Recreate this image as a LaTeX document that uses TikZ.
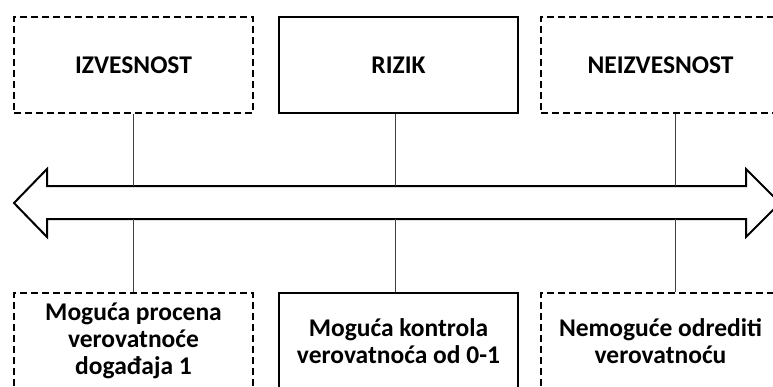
\documentclass[tikz,border=0pt]{standalone}
\usepackage{fontspec}
\setmainfont{Carlito}
\begin{document}
\begin{tikzpicture}[x=1pt,y=-1pt,
  box/.style={draw=black, line width=2.2pt, minimum width=239pt, minimum height=96pt,
    inner sep=0pt, align=center, font=\bfseries\fontsize{25.5}{27}\selectfont},
  dbox/.style={box, dash pattern=on 7pt off 4pt},
  conn/.style={draw=black!75, line width=1pt},
  bigarrow/.style={draw=black, line width=2pt, fill=white, line join=miter}]
\useasboundingbox (0,0) rectangle (773,386);
\clip (0,0) rectangle (773,386);
% top boxes
\node[dbox] (tl) at (133.5,65) {IZVESNOST};
\node[box]  (tm) at (398.5,65) {RIZIK};
\node[dbox] (tr) at (660.5,65) {NEIZVESNOST};
% bottom boxes
\node[dbox] (bl) at (133.5,341) {Moguća procena\\verovatnoće\\događaja 1};
\node[box]  (bm) at (398.5,341) {Moguća kontrola\\verovatnoća od 0-1};
\node[dbox] (br) at (660.5,341) {Nemoguće odrediti\\verovatnoću};
% double arrow
\draw[bigarrow] (14,203) -- (47,169) -- (47,186) -- (746,186) -- (746,169) -- (780,203)
  -- (746,237) -- (746,219) -- (47,219) -- (47,237) -- cycle;
\coordinate (a1t) at (133,186); \coordinate (a1b) at (133,219);
\coordinate (a2t) at (395,186); \coordinate (a2b) at (395,219);
\coordinate (a3t) at (675,186); \coordinate (a3b) at (675,219);
\draw[conn] (tl.south -| a1t) -- (a1t);
\draw[conn] (a1b) -- (bl.north -| a1b);
\draw[conn] (tm.south -| a2t) -- (a2t);
\draw[conn] (a2b) -- (bm.north -| a2b);
\draw[conn] (tr.south -| a3t) -- (a3t);
\draw[conn] (a3b) -- (br.north -| a3b);
\end{tikzpicture}
\end{document}
